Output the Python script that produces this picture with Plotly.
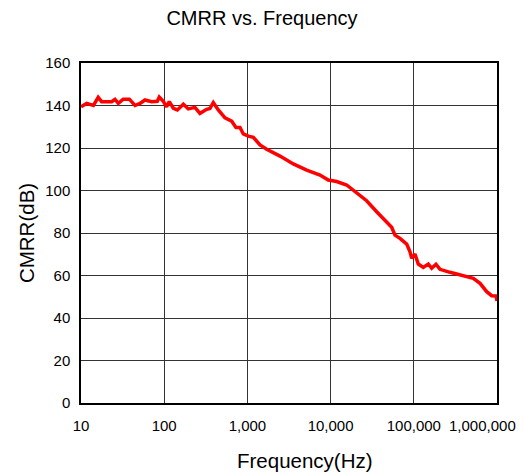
import plotly.graph_objects as go

freq_hz = [10, 11.7, 14.1, 16.1, 17.7, 20.4, 23.4, 25.6, 28.1, 32.2, 38.1, 44.6, 51.2, 58.8,
           70.8, 82.6, 87.3, 97.5, 107, 115, 129, 144, 170, 195, 234, 269, 324, 355, 389,
           447, 538, 647, 729, 815, 893, 1026, 1178, 1417, 1706, 2465, 3563, 5160, 7460,
           9380, 11830, 15600, 18750, 21500, 27100, 35800, 47200, 54200, 59400, 68200,
           82200, 90000, 94400, 103300, 113200, 130000, 149300, 164000, 184800, 206500,
           272300, 328000, 432000, 519000, 625000, 752000, 863000, 972000, 1000000]
cmrr_db = [139.4, 141.0, 140.0, 143.8, 141.8, 142.0, 141.8, 142.9, 141.0, 143.0, 143.0, 140.0,
           141.0, 142.6, 141.8, 142.0, 144.0, 142.0, 139.4, 141.8, 138.7, 137.9, 140.6, 138.4,
           139.1, 136.3, 138.2, 138.6, 141.4, 137.9, 134.2, 132.6, 129.7, 129.7, 126.6, 125.6,
           125.0, 121.4, 119.4, 116.2, 112.5, 109.6, 107.3, 104.9, 104.2, 102.6, 100.2, 97.9,
           95.2, 90.0, 84.8, 82.7, 79.0, 77.5, 74.8, 71.2, 68.1, 70.1, 65.4, 63.8, 65.4, 63.4,
           65.3, 62.9, 61.5, 60.7, 59.4, 58.7, 56.3, 52.4, 50.5, 50.4, 48.0]

x_tick_vals = [10, 100, 1000, 10000, 100000, 1000000]
x_tick_text = ["10", "100", "1,000", "10,000", "100,000", "1,000,000"]
y_tick_vals = [0, 20, 40, 60, 80, 100, 120, 140, 160]

fig = go.Figure()
fig.add_trace(go.Scatter(x=freq_hz, y=cmrr_db, mode="lines",
                         line=dict(color="#ff0000", width=3.5), showlegend=False))

font = "Liberation Sans, Arial, sans-serif"
# last tick label is drawn shifted left so it fits inside the page
fig.add_annotation(x=6, y=-0.066, xref="x", yref="paper", text=x_tick_text[-1],
                   showarrow=False, xanchor="center", yanchor="middle", xshift=-15,
                   font=dict(size=15, family=font, color="black"))
# axis titles
fig.add_annotation(x=0.5385, y=-0.168, xref="paper", yref="paper", text="Frequency(Hz)",
                   showarrow=False, xanchor="center", yanchor="middle",
                   font=dict(size=20.5, family=font, color="black"))
fig.add_annotation(x=-0.132, y=0.5, xref="paper", yref="paper", text="CMRR(dB)",
                   textangle=-90, showarrow=False, xanchor="center", yanchor="middle",
                   font=dict(size=20.5, family=font, color="black"))

fig.update_layout(
    width=524, height=475,
    margin=dict(l=81, r=27, t=63, b=72),
    paper_bgcolor="white", plot_bgcolor="white",
    font=dict(family=font, color="black"),
    title=dict(text="CMRR vs. Frequency", x=0.5, xanchor="center", y=0.962, yanchor="middle",
               font=dict(size=20, family=font, color="black")),
    xaxis=dict(type="log", range=[1, 6], tickvals=x_tick_vals,
               ticktext=x_tick_text[:-1] + [""],
               showgrid=True, gridcolor="#333333", gridwidth=1,
               showline=True, linecolor="black", linewidth=1.5, mirror=True,
               ticks="", tickfont=dict(size=15), ticklabelstandoff=8,
               zeroline=False),
    yaxis=dict(range=[0, 160], tickvals=y_tick_vals,
               showgrid=True, gridcolor="#333333", gridwidth=1,
               showline=True, linecolor="black", linewidth=1.5, mirror=True,
               ticks="", tickfont=dict(size=15), ticklabelstandoff=6,
               zeroline=False),
)

fig.write_html("out.html")
